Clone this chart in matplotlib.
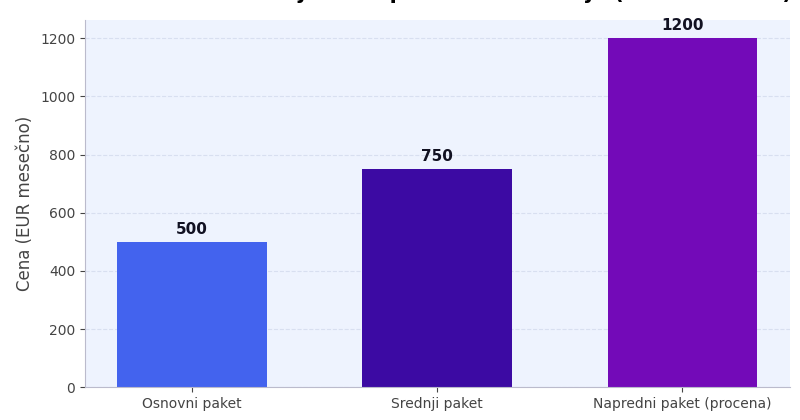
import matplotlib
matplotlib.use("Agg")
import matplotlib.pyplot as plt

categories = ["Osnovni paket", "Srednji paket", "Napredni paket (procena)"]
values = [500, 750, 1200]
colors = ["#4363EE", "#3C0AA3", "#730AB8"]

fig = plt.figure(figsize=(8, 4.2), dpi=100)
ax = fig.add_axes([0.106, 0.078, 0.882, 0.874])
ax.set_facecolor("#EEF3FE")
bars = ax.bar(categories, values, width=0.61, color=colors, zorder=2)
for b, v in zip(bars, values):
    ax.text(b.get_x() + b.get_width()/2, v + 18, str(v), ha="center", va="bottom",
            fontsize=11, fontweight="bold", color="#111122")
ax.set_ylim(0, 1262)
ax.set_xlim(-0.437, 2.44)
ax.set_yticks(range(0, 1201, 200))
ax.yaxis.grid(True, linestyle="--", color="#D8DFF0", linewidth=0.8, zorder=0)
ax.set_ylabel("Cena (EUR mesečno)", fontsize=12, color="#444444")
for s in ["top", "right"]:
    ax.spines[s].set_visible(False)
for s in ["left", "bottom"]:
    ax.spines[s].set_color("#BBBBCC")
ax.tick_params(colors="#444444", labelsize=10)
fig.text(0.62, 1.002, "Poređenje cena paketa održavanja (EUR mesečno)", ha="center", va="baseline",
         fontsize=15, fontweight="bold")
fig.savefig("out.png", dpi=100)
